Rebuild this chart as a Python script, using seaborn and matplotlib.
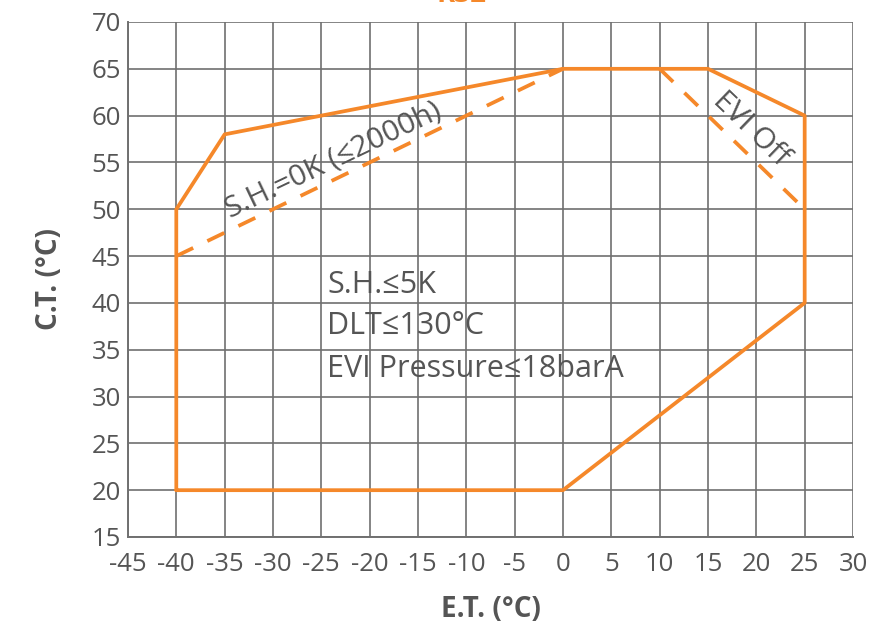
import matplotlib
matplotlib.use("Agg")
import matplotlib.pyplot as plt
import pandas as pd
import seaborn as sns

ORANGE = "#f5882a"
GRAY = "#555555"

# operating envelope (closed polygon)
env_et = [-40, -40, -35, 0, 15, 25, 25, 0, -40]
env_ct = [20, 50, 58, 65, 65, 60, 40, 20, 20]

# S.H.=0K limit line
sh_et = [-40, 0]
sh_ct = [45, 65]

# EVI off line
evi_et = [10, 25]
evi_ct = [65, 50]

x_ticks = list(range(-45, 31, 5))
y_ticks = list(range(15, 71, 5))


def draw(ax, et, ct, dashed=False):
    df = pd.DataFrame({"et": et, "ct": ct})
    sns.lineplot(data=df, x="et", y="ct", sort=False, estimator=None, color=ORANGE,
                 lw=2.7, linestyle=(0, (5, 4.2)) if dashed else "-", ax=ax)


def main() -> None:
    sns.set_theme(style="whitegrid")
    plt.rcParams["font.family"] = ["Open Sans", "DejaVu Sans"]
    plt.rcParams["axes.unicode_minus"] = False

    fig = plt.figure(figsize=(8.88, 6.34), dpi=100)
    ax = fig.add_axes([0.1441, 0.153, 0.8165, 0.8123])

    draw(ax, env_et, env_ct)
    draw(ax, sh_et, sh_ct, dashed=True)
    draw(ax, evi_et, evi_ct, dashed=True)

    ax.set_xlim(-45, 30)
    ax.set_ylim(15, 70)
    ax.set_xticks(x_ticks)
    ax.set_yticks(y_ticks)
    ax.grid(True, color="#707070", lw=1.2)
    ax.set_axisbelow(True)
    for side, sp in ax.spines.items():
        sp.set_visible(side in ("left", "bottom"))
        sp.set_color("#707070")
        sp.set_linewidth(1.4)
    ax.tick_params(axis="both", length=0, labelsize=18.5, colors=GRAY)
    ax.tick_params(axis="x", pad=11)
    ax.tick_params(axis="y", pad=5)

    ax.set_xlabel("E.T. (°C)", fontsize=20, fontweight="bold", color=GRAY, labelpad=13)
    ax.set_ylabel("C.T. (°C)", fontsize=20, fontweight="bold", color=GRAY, labelpad=20)

    ax.text(-23.8, 55.2, "S.H.=0K (≤2000h)", rotation=25.5, rotation_mode="anchor",
            ha="center", va="center", fontsize=21.5, color=GRAY)
    ax.text(19.4, 58.6, "EVI Off", rotation=-44, rotation_mode="anchor",
            ha="center", va="center", fontsize=21.5, color=GRAY)
    ax.text(-24.4, 41.1, "S.H.≤5K", ha="left", va="baseline", fontsize=22, color=GRAY)
    ax.text(-24.4, 36.7, "DLT≤130°C", ha="left", va="baseline", fontsize=22, color=GRAY)
    ax.text(-24.4, 32.1, "EVI Pressure≤18barA", ha="left", va="baseline", fontsize=22,
            color=GRAY)

    # chart title, mostly cropped off at the top as in the source image
    fig.text(0.52, 1.009, "R32", ha="center", va="center", fontsize=20,
             fontweight="bold", color=ORANGE)

    fig.savefig("out.png", dpi=100)


if __name__ == "__main__":
    main()
